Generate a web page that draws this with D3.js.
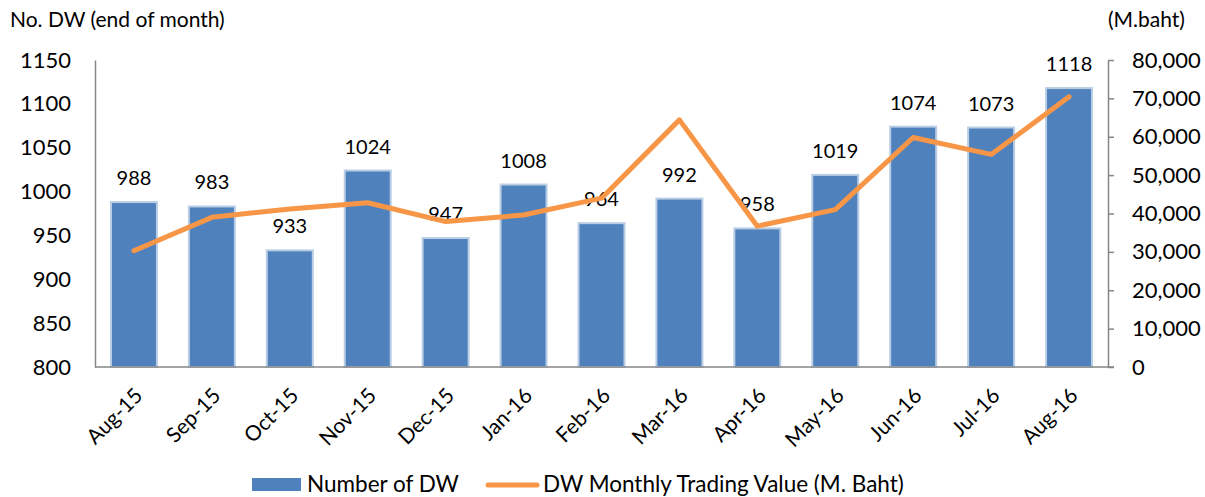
<!DOCTYPE html>
<html>
<head>
<meta charset="utf-8">
<script src="https://cdn.jsdelivr.net/npm/d3@7"></script>
<style>
  body { margin: 0; background: #fff; }
  text { font-family: Lato, "Open Sans", sans-serif; fill: #000; }
</style>
</head>
<body>
<div id="canvas"></div>
<script>
"use strict"

/* Data */
let months = ["Aug-15", "Sep-15", "Oct-15", "Nov-15", "Dec-15", "Jan-16", "Feb-16",
              "Mar-16", "Apr-16", "May-16", "Jun-16", "Jul-16", "Aug-16"];
let dwCount = [988, 983, 933, 1024, 947, 1008, 964, 992, 958, 1019, 1074, 1073, 1118];
let tradingValue = [30300, 39000, 41200, 42800, 37900, 39600, 44000,
                    64400, 36700, 41000, 59800, 55400, 70400];
let leftTicks = [800, 850, 900, 950, 1000, 1050, 1100, 1150];
let rightTicks = [0, 10000, 20000, 30000, 40000, 50000, 60000, 70000, 80000];

/* Drawing config */
let svgWidth = 1205;
let svgHeight = 497;
let plotLeft = 95;
let plotRight = 1108;
let plotTop = 60;
let plotBottom = 367;
let axisColor = "#868686";
let barColor = "#4f81bd";
let lineColor = "#f79646";

let svg = d3.select("#canvas")
  .append("svg")
  .attr("width", svgWidth)
  .attr("height", svgHeight);

let xScale = d3.scaleBand()
  .domain(months)
  .range([plotLeft, plotRight])
  .paddingInner(0.41)
  .paddingOuter(0.205);

let yLeft = d3.scaleLinear()
  .domain([800, 1150])
  .range([plotBottom, plotTop]);

let yRight = d3.scaleLinear()
  .domain([0, 80000])
  .range([plotBottom, plotTop]);

// bars
svg.selectAll("rect.bar")
  .data(dwCount)
  .enter()
  .append("rect")
  .attr("class", "bar")
  .attr("x", function(d, i){ return xScale(months[i]); })
  .attr("y", function(d){ return yLeft(d); })
  .attr("width", xScale.bandwidth())
  .attr("height", function(d){ return plotBottom - yLeft(d); })
  .attr("fill", barColor)
  .attr("stroke", "#b9cde5")
  .attr("stroke-width", 2);

// bar value labels
svg.selectAll("text.val")
  .data(dwCount)
  .enter()
  .append("text")
  .attr("class", "val")
  .attr("x", function(d, i){ return xScale(months[i]) + xScale.bandwidth() / 2; })
  .attr("y", function(d){ return yLeft(d) - 17; })
  .attr("text-anchor", "middle")
  .style("font-size", "20px")
  .text(function(d){ return d; });

// left axis (no ticks)
let leftAxis = svg.append("g")
  .attr("transform", "translate(" + plotLeft + ",0)")
  .call(d3.axisLeft(yLeft).tickValues(leftTicks).tickSize(0).tickPadding(24).tickFormat(d3.format("d")));
leftAxis.select(".domain").attr("stroke", axisColor).attr("stroke-width", 1.5);
leftAxis.selectAll("text").style("font-size", "22px").style("font-family", "Lato, sans-serif");

// right axis
let rightAxis = svg.append("g")
  .attr("transform", "translate(" + plotRight + ",0)")
  .call(d3.axisRight(yRight).tickValues(rightTicks).tickSize(6).tickSizeOuter(0).tickPadding(18).tickFormat(d3.format(",")));
rightAxis.select(".domain").attr("stroke", axisColor).attr("stroke-width", 1.5);
rightAxis.selectAll("line").attr("stroke", axisColor).attr("stroke-width", 1.5);
rightAxis.selectAll("text").style("font-size", "22px").style("font-family", "Lato, sans-serif");

// bottom axis line
svg.append("line")
  .attr("x1", plotLeft)
  .attr("x2", plotRight + 6)
  .attr("y1", plotBottom)
  .attr("y2", plotBottom)
  .attr("stroke", axisColor)
  .attr("stroke-width", 1.5);

// x labels rotated
svg.selectAll("text.xlab")
  .data(months)
  .enter()
  .append("text")
  .attr("class", "xlab")
  .attr("text-anchor", "end")
  .attr("transform", function(d){
    let cx = xScale(d) + xScale.bandwidth() / 2 + 10;
    return "translate(" + cx + "," + (plotBottom + 30) + ") rotate(-45)";
  })
  .style("font-size", "21px")
  .text(function(d){ return d; });

// trading value line
let line = d3.line()
  .x(function(d, i){ return xScale(months[i]) + xScale.bandwidth() / 2; })
  .y(function(d){ return yRight(d); });

svg.append("path")
  .datum(tradingValue)
  .attr("d", line)
  .attr("fill", "none")
  .attr("stroke", lineColor)
  .attr("stroke-width", 5)
  .attr("stroke-linejoin", "round")
  .attr("stroke-linecap", "round");

// axis titles
svg.append("text")
  .attr("x", 10)
  .attr("y", 27)
  .style("font-size", "21px")
  .text("No. DW (end of month)");

svg.append("text")
  .attr("x", 1108)
  .attr("y", 27)
  .style("font-size", "21px")
  .text("(M.baht)");

// legend
svg.append("rect")
  .attr("x", 252)
  .attr("y", 478)
  .attr("width", 49)
  .attr("height", 13)
  .attr("fill", barColor);

svg.append("text")
  .attr("x", 307)
  .attr("y", 492)
  .style("font-size", "22.5px")
  .text("Number of DW");

svg.append("line")
  .attr("x1", 488)
  .attr("x2", 537)
  .attr("y1", 485)
  .attr("y2", 485)
  .attr("stroke", lineColor)
  .attr("stroke-width", 5)
  .attr("stroke-linecap", "round");

svg.append("text")
  .attr("x", 543)
  .attr("y", 492)
  .style("font-size", "22.5px")
  .text("DW Monthly Trading Value (M. Baht)");
</script>
</body>
</html>
